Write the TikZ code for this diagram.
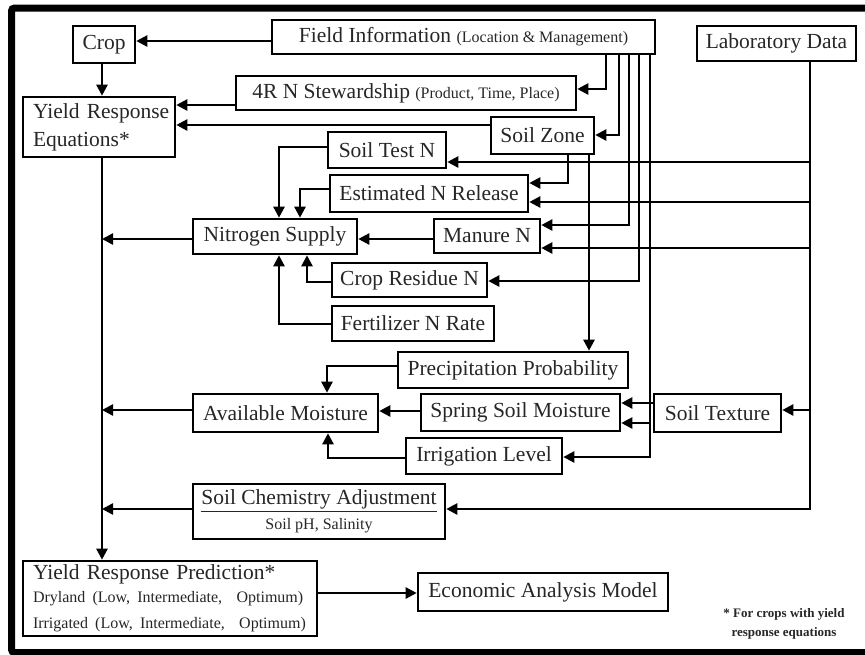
\documentclass[tikz,border=0pt]{standalone}
\usepackage{fontspec}
\setmainfont{Liberation Serif}
\usetikzlibrary{arrows.meta}
\newcommand\bigf{\fontsize{21.5}{28}\selectfont}
\newcommand\smallf{\fontsize{16}{19}\selectfont}
\begin{document}
\begin{tikzpicture}[x=1pt,y=-1pt,
  box/.style={draw, line width=2.6pt, inner sep=0pt, font=\bigf, text=black!85},
  sz/.style n args={2}{minimum width=#1pt, minimum height=#2pt},
  arr/.style={line width=2.4pt, -{Triangle[length=11pt,width=11pt]}},
  ln/.style={line width=2.4pt}]
\useasboundingbox (0,0) rectangle (865,654);
% frame
\draw[line width=7pt, rounded corners=3pt] (11.5,8) rectangle (872,652.5);

% nodes
\node[box, sz={62}{37}] (crop) at (104,44.5) {Crop};
\node[box, sz={383}{34}] (field) at (463.5,37) {Field Information {\smallf(Location \& Management)}};
\node[box, sz={159}{35}] (lab) at (776.5,43.5) {Laboratory Data};
\node[box, minimum height=60pt, text width=132pt, inner xsep=10pt, align=left] (yre) at (99,127) {\mbox{Yield Response}\\\mbox{Equations*}};
\node[box, sz={340}{34}] (stew) at (406,93) {4R N Stewardship {\smallf(Product, Time, Place)}};
\node[box, sz={103}{37}] (soilzone) at (542.5,135.5) {Soil Zone};
\node[box, sz={118}{36}] (soiltest) at (387,150) {Soil Test N};
\node[box, sz={198}{37}] (estn) at (429,193.5) {Estimated N Release};
\node[box, sz={164}{35}] (nsup) at (275,236.5) {Nitrogen Supply};
\node[box, sz={106}{34}] (manure) at (487,236) {Manure N};
\node[box, sz={155}{34}] (resid) at (409.5,280) {Crop Residue N};
\node[box, sz={162}{35}] (fert) at (413,323.5) {Fertilizer N Rate};
\node[box, sz={230}{36}] (precip) at (513,370) {Precipitation Probability};
\node[box, sz={185}{38}] (avail) at (285.5,413) {Available Moisture};
\node[box, sz={199}{37}] (spring) at (520.5,412.5) {Spring Soil Moisture};
\node[box, sz={127}{38}] (soiltex) at (717.5,413) {Soil Texture};
\node[box, sz={156}{36}] (irrig) at (484,456) {Irrigation Level};
\node[box, sz={252}{55}, align=center] (chem) at (319,511.5) {\underline{Soil Chemistry Adjustment}\\[-3pt]{\smallf Soil pH, Salinity}};
\node[box, minimum height=75pt, text width=274pt, inner xsep=10pt, align=left] (yrp) at (170,598.5) {\mbox{Yield Response Prediction*}\\[-5pt]{\smallf Dryland (Low, Intermediate,\ \ Optimum)}\\[-2pt]{\smallf Irrigated (Low, Intermediate,\ \ Optimum)}};
\node[box, sz={250}{38}] (econ) at (543,592) {Economic Analysis Model};
\node[font=\bfseries\fontsize{13}{19}\selectfont, align=center, text=black!85] (note) at (784,623.5) {* For crops with yield\\response equations};

% coordinates on shared trunks
\coordinate (m1) at (102,239);
\coordinate (m2) at (102,410);
\coordinate (m3) at (102,509);
\coordinate (l1) at (810,162);
\coordinate (l2) at (810,202);
\coordinate (l3) at (810,248);
\coordinate (l4) at (810,410);
\coordinate (f1) at (650,423);

% top part
\draw[arr] (field.west |- 0,41) -- (crop.east |- 0,41);
\draw[arr] (crop.south -| 102,0) -- (yre.north -| 102,0);
\draw[arr] (field.south -| 606,0) |- (stew.east |- 0,89);
\draw[arr] (stew.west |- 0,105) -- (yre.east |- 0,105);
\draw[arr] (field.south -| 619,0) |- (soilzone.east |- 0,135);
\draw[arr] (soilzone.west |- 0,125) -- (yre.east |- 0,125);
\draw[arr] (field.south -| 629,0) |- (manure.east |- 0,225);
\draw[arr] (field.south -| 639,0) |- (resid.east |- 0,281);
\draw[arr] (field.south -| 650,0) |- (irrig.east |- 0,457);
\draw[arr] (f1) -- (spring.east |- f1);
\draw[arr] (soilzone.south -| 568,0) |- (estn.east |- 0,183);
\draw[arr] (soilzone.south -| 589,0) -- (precip.north -| 589,0);

% laboratory data
\draw[arr] (lab.south -| 810,0) |- (chem.east |- 0,509);
\draw[arr] (l1) -- (soiltest.east |- l1);
\draw[arr] (l2) -- (estn.east |- l2);
\draw[arr] (l3) -- (manure.east |- l3);
\draw[arr] (l4) -- (soiltex.east |- l4);

% nitrogen supply
\draw[arr] (soiltest.west |- 0,147) -| (nsup.north -| 279,0);
\draw[arr] (estn.west |- 0,189) -| (nsup.north -| 300,0);
\draw[arr] (manure.west |- 0,239) -- (nsup.east |- 0,239);
\draw[arr] (resid.west |- 0,282) -| (nsup.south -| 307,0);
\draw[arr] (fert.west |- 0,324) -| (nsup.south -| 279,0);

% moisture
\draw[arr] (precip.west |- 0,366) -| (avail.north -| 327,0);
\draw[arr] (spring.west |- 0,411) -- (avail.east |- 0,411);
\draw[arr] (soiltex.west |- 0,403) -- (spring.east |- 0,403);
\draw[arr] (irrig.west |- 0,458) -| (avail.south -| 328,0);

% main trunk
\draw[arr] (yre.south -| 102,0) -- (yrp.north -| 102,0);
\draw[arr] (nsup.west |- m1) -- (m1);
\draw[arr] (avail.west |- m2) -- (m2);
\draw[arr] (chem.west |- m3) -- (m3);
\draw[arr] (yrp.east |- 0,593) -- (econ.west |- 0,593);
\end{tikzpicture}
\end{document}
